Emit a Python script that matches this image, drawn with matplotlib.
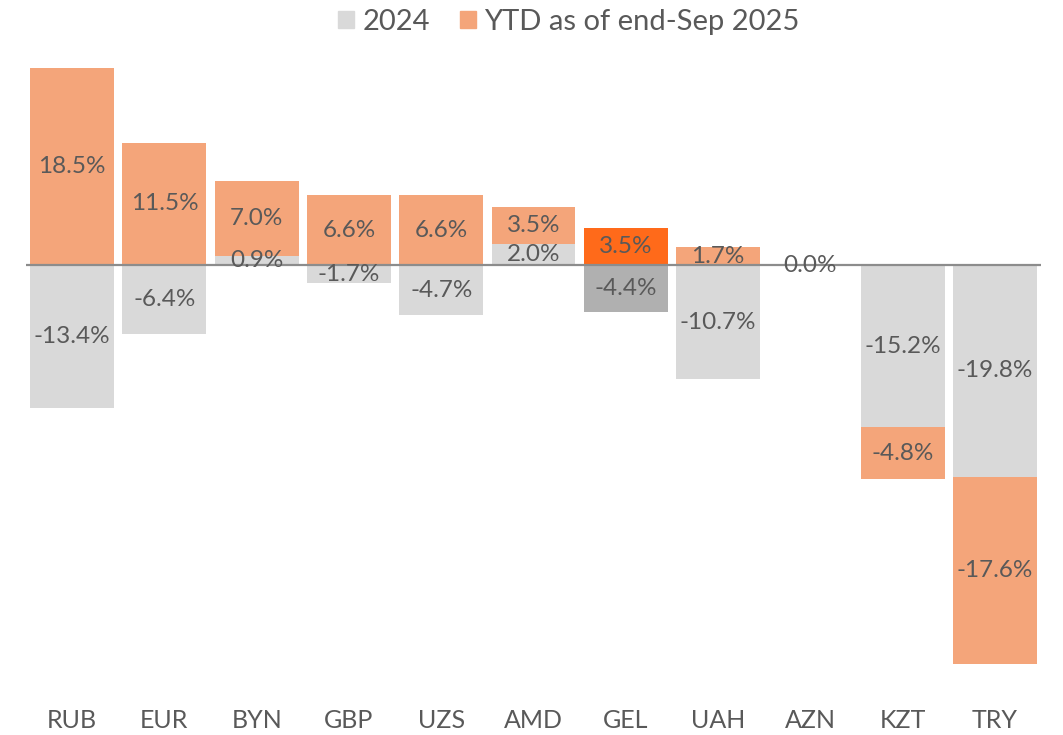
import matplotlib.pyplot as plt
from matplotlib.patches import Patch

currencies = ['RUB', 'EUR', 'BYN', 'GBP', 'UZS', 'AMD', 'GEL', 'UAH', 'AZN', 'KZT', 'TRY']
chg_2024 = [-13.4, -6.4, 0.9, -1.7, -4.7, 2.0, -4.4, -10.7, 0.0, -15.2, -19.8]
chg_2025 = [18.5, 11.5, 7.0, 6.6, 6.6, 3.5, 3.5, 1.7, 0.0, -4.8, -17.6]
highlight = 'GEL'

GREY, ORANGE = '#d9d9d9', '#f4a57a'
GREY_HI, ORANGE_HI = '#b0b0b0', '#ff6a1a'
TXT = '#595959'
FONT = ['Lato', 'DejaVu Sans']

plt.rcParams['font.family'] = FONT

fig = plt.figure(figsize=(10.63, 7.35), dpi=100)
ax = fig.add_axes([26 / 1063, 1 - 692 / 735, 1015 / 1063, 640 / 735])

x = range(len(currencies))
w = 0.91

# stack like Excel: positives on positives, negatives on negatives
base_2025 = []
for a, b in zip(chg_2024, chg_2025):
    if b >= 0:
        base_2025.append(max(a, 0))
    else:
        base_2025.append(min(a, 0))

c24 = [GREY_HI if c == highlight else GREY for c in currencies]
c25 = [ORANGE_HI if c == highlight else ORANGE for c in currencies]

ax.bar(x, chg_2024, width=w, color=c24, zorder=2)
ax.bar(x, chg_2025, width=w, bottom=base_2025, color=c25, zorder=2)
ax.axhline(0, color='#8c8c8c', lw=1.6, zorder=3)

LBL = 17.5
for i, cur in enumerate(currencies):
    a, b = chg_2024[i], chg_2025[i]
    if cur == 'AZN':
        ax.text(i, 0, f'{a:.1f}%', ha='center', va='center', fontsize=LBL, color=TXT, zorder=4)
        continue
    ax.text(i, a / 2, f'{a:.1f}%', ha='center', va='center', fontsize=LBL, color=TXT, zorder=4)
    ax.text(i, base_2025[i] + b / 2, f'{b:.1f}%', ha='center', va='center', fontsize=LBL, color=TXT, zorder=4)

ax.set_xlim(-0.5, len(currencies) - 0.5)
ax.set_ylim(-40, 20)
ax.set_yticks([])
ax.set_xticks(list(x))
ax.set_xticklabels(currencies, fontsize=18, color=TXT)
ax.tick_params(axis='x', length=0, pad=12)
for s in ax.spines.values():
    s.set_visible(False)

handles = [Patch(color=GREY, label='2024'), Patch(color=ORANGE, label='YTD as of end-Sep 2025')]
fig.legend(handles=handles, loc='center', bbox_to_anchor=(569 / 1063, 1 - 22 / 735), ncol=2,
           frameon=False, fontsize=21, labelcolor=TXT, handlelength=0.55, handleheight=0.55,
           handletextpad=0.3, columnspacing=1.0)

fig.savefig('out.png', dpi=100)
